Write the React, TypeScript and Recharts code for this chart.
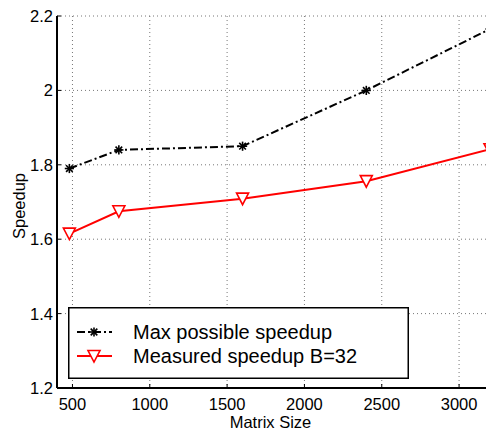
import React from "react";
import { LineChart, Line, XAxis, YAxis, CartesianGrid, Legend } from "recharts";

const FONT = "'Liberation Sans', Arial, Helvetica, sans-serif";

const matrixSizes = [480, 800, 1600, 2400, 3200];
const maxSpeedup = [1.79, 1.84, 1.85, 2.0, 2.165];
const measuredSpeedup = [1.615, 1.675, 1.709, 1.756, 1.842];
const xTicks = [500, 1000, 1500, 2000, 2500, 3000];
const yTicks = [1.2, 1.4, 1.6, 1.8, 2.0, 2.2];
const seriesNames = ["Max possible speedup", "Measured speedup B=32"];

const data = matrixSizes.map((n, i) => ({ n, max: maxSpeedup[i], measured: measuredSpeedup[i] }));

const RED = "#ff0000";
const DASH_DOT = "8 3 2 3";

function Star({ cx, cy }: any) {
  const r = 4.6;
  const d = r * 0.72;
  return (
    <g stroke="#000" strokeWidth={1.6}>
      <line x1={cx - r} y1={cy} x2={cx + r} y2={cy} />
      <line x1={cx} y1={cy - r} x2={cx} y2={cy + r} />
      <line x1={cx - d} y1={cy - d} x2={cx + d} y2={cy + d} />
      <line x1={cx - d} y1={cy + d} x2={cx + d} y2={cy - d} />
    </g>
  );
}

function TriDown({ cx, cy }: any) {
  return (
    <polygon
      points={`${cx - 6},${cy - 5.5} ${cx + 6},${cy - 5.5} ${cx},${cy + 6}`}
      fill="#fff"
      stroke={RED}
      strokeWidth={1.6}
    />
  );
}

function BottomTick({ x, y, payload }: any) {
  return (
    <g>
      <line x1={x} y1={y} x2={x} y2={y - 4} stroke="#000" />
      <text x={x} y={y + 22} textAnchor="middle" fontFamily={FONT} fontSize={16.5} fill="#000">
        {payload.value}
      </text>
    </g>
  );
}

function TopTick({ x, y }: any) {
  return <line x1={x} y1={y} x2={x} y2={y + 4} stroke="#000" />;
}

function LeftTick({ x, y, payload }: any) {
  const v = Number(payload.value);
  return (
    <g>
      <line x1={x} y1={y} x2={x + 4} y2={y} stroke="#000" />
      <text x={x - 4} y={y + 6} textAnchor="end" fontFamily={FONT} fontSize={16.5} fill="#000">
        {String(Number(v.toFixed(1)))}
      </text>
    </g>
  );
}

function YLabel({ viewBox }: any) {
  const x0 = viewBox.x + 24.5;
  const y0 = viewBox.y + viewBox.height / 2 + 4;
  return (
    <text
      x={x0}
      y={y0}
      transform={`rotate(-90 ${x0} ${y0})`}
      textAnchor="middle"
      fontFamily={FONT}
      fontSize={16.5}
      fill="#000"
    >
      Speedup
    </text>
  );
}

function XLabel({ viewBox }: any) {
  return (
    <text
      x={viewBox.x + viewBox.width / 2 - 3}
      y={viewBox.y + 40}
      textAnchor="middle"
      fontFamily={FONT}
      fontSize={16.5}
      fill="#000"
    >
      Matrix Size
    </text>
  );
}

function LegendBox() {
  return (
    <svg width={341} height={72} style={{ display: "block" }}>
      <rect x={0.75} y={0.75} width={339.5} height={70.5} fill="#fff" stroke="#000" strokeWidth={1.5} />
      <line x1={9} y1={25} x2={44} y2={25} stroke="#000" strokeWidth={2} strokeDasharray={DASH_DOT} />
      <Star cx={26} cy={25} />
      <text x={65} y={32} fontFamily={FONT} fontSize={20} fill="#000">{seriesNames[0]}</text>
      <line x1={9} y1={49} x2={44} y2={49} stroke={RED} strokeWidth={2} />
      <TriDown cx={26} cy={49} />
      <text x={65} y={56} fontFamily={FONT} fontSize={20} fill="#000">{seriesNames[1]}</text>
    </svg>
  );
}

export default function App() {
  return (
    <div style={{ position: "fixed", left: 0, top: 0, width: 486, height: 437, overflow: "hidden", background: "#fff" }}>
      <LineChart width={500} height={437} data={data} margin={{ top: 16, right: 10, bottom: 0, left: 0 }}>
        <CartesianGrid stroke="#777" strokeDasharray="1 3" strokeWidth={1} />
        <XAxis
          dataKey="n"
          type="number"
          domain={[400, 3200]}
          ticks={xTicks}
          height={49}
          tickSize={0}
          tickMargin={0}
          tick={<BottomTick />}
          axisLine={{ stroke: "#000", strokeWidth: 2 }}
          tickLine={false}
          label={<XLabel />}
        />
        <XAxis
          xAxisId="top"
          orientation="top"
          type="number"
          domain={[400, 3200]}
          ticks={xTicks}
          height={0}
          tickSize={0}
          tickMargin={0}
          tick={<TopTick />}
          axisLine={{ stroke: "#000", strokeWidth: 2 }}
          tickLine={false}
        />
        <YAxis
          type="number"
          domain={[1.2, 2.2]}
          ticks={yTicks}
          width={57}
          tickSize={0}
          tickMargin={0}
          tick={<LeftTick />}
          axisLine={{ stroke: "#000", strokeWidth: 2 }}
          tickLine={false}
          label={<YLabel />}
        />
        <Legend
          layout="vertical"
          align="center"
          verticalAlign="middle"
          wrapperStyle={{ left: 68, top: 307, width: 341, height: 72 }}
          content={() => <LegendBox />}
        />
        <Line
          dataKey="max"
          name={seriesNames[0]}
          stroke="#000"
          strokeWidth={2}
          strokeDasharray={DASH_DOT}
          dot={(p: any) => <Star key={`s${p.index}`} cx={p.cx} cy={p.cy} />}
          isAnimationActive={false}
        />
        <Line
          dataKey="measured"
          name={seriesNames[1]}
          stroke={RED}
          strokeWidth={2}
          dot={(p: any) => <TriDown key={`t${p.index}`} cx={p.cx} cy={p.cy} />}
          isAnimationActive={false}
        />
      </LineChart>
    </div>
  );
}
